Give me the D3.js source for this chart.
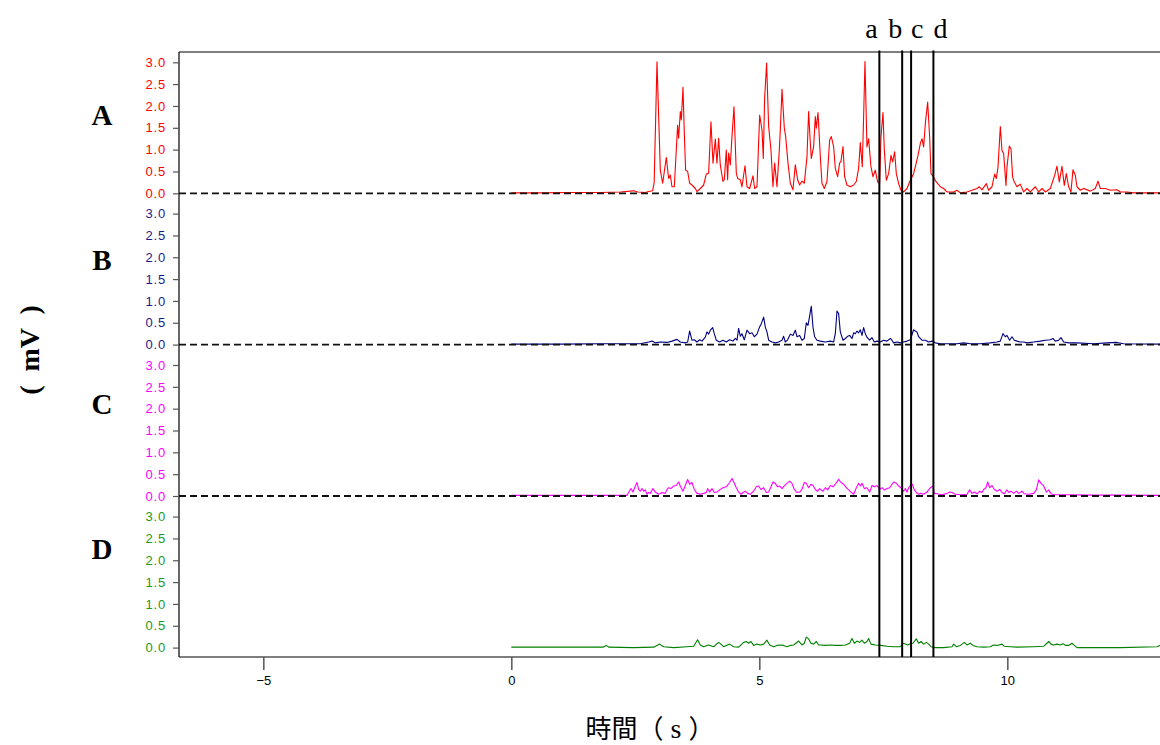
<!DOCTYPE html>
<html>
<head>
<meta charset="utf-8">
<script src="https://cdn.jsdelivr.net/npm/d3@7"></script>
<style>
  html, body { margin: 0; padding: 0; background: #fff; }
  svg { display: block; }
</style>
</head>
<body>
<svg id="chart" width="1160" height="745"></svg>
<script>
// ---- data: rectified EMG traces, time (s) vs amplitude (mV) ----
const channelNames = ["A", "B", "C", "D"];
const yTicks = [0, 0.5, 1.0, 1.5, 2.0, 2.5, 3.0];
const xTicks = [-5, 0, 5, 10];
const eventTimes = [7.42, 7.88, 8.06, 8.51];
const eventNames = ["a", "b", "c", "d"];

const seriesA = [[0,0.01],[0.6,0.01],[1.2,0.02],[1.8,0.02],[2.2,0.03],[2.4,0.05],[2.47,0.06],[2.55,0.03],[2.7,0.02],[2.77,0.04],[2.85,0.06],[2.88,0.25],[2.937,3.01],[3.004,0.53],[3.051,0.23],[3.125,0.82],[3.172,0.34],[3.205,0.42],[3.239,0.15],[3.286,0.15],[3.353,1.56],[3.373,1.26],[3.407,1.87],[3.427,1.68],[3.461,2.43],[3.488,1.37],[3.514,0.53],[3.555,0.5],[3.595,0.23],[3.642,0.19],[3.709,0.11],[3.743,0.04],[3.81,0.11],[3.877,0.19],[3.931,0.44],[3.978,0.46],[4.025,1.64],[4.066,0.69],[4.113,1.24],[4.146,0.69],[4.18,1.26],[4.213,0.65],[4.267,0.27],[4.294,0.31],[4.334,0.99],[4.361,0.31],[4.381,0.92],[4.415,0.65],[4.449,1.3],[4.489,1.98],[4.536,0.46],[4.563,0.34],[4.617,0.31],[4.65,0.15],[4.711,0.63],[4.751,0.15],[4.805,0.11],[4.872,0.4],[4.906,0.11],[4.953,0.15],[5.007,1.79],[5.054,1.45],[5.08,0.8],[5.107,2.18],[5.147,2.98],[5.188,1.53],[5.235,0.99],[5.275,0.15],[5.309,0.69],[5.356,0.15],[5.403,0.99],[5.423,1.45],[5.457,2.38],[5.504,1.49],[5.531,1.3],[5.578,0.69],[5.625,0.23],[5.678,0.08],[5.726,0.65],[5.773,0.31],[5.813,0.19],[5.86,0.28],[5.907,0.23],[5.961,0.84],[5.994,1.87],[6.028,1.15],[6.048,0.8],[6.095,1.07],[6.129,1.76],[6.149,1.49],[6.183,1.85],[6.23,0.84],[6.263,0.23],[6.31,0.11],[6.364,0.27],[6.418,1.22],[6.451,1.3],[6.498,1.07],[6.532,0.57],[6.579,0.38],[6.619,0.69],[6.646,0.73],[6.687,1.07],[6.72,0.38],[6.767,0.19],[6.834,0.15],[6.902,0.19],[6.955,0.27],[7.002,0.57],[7.036,1.16],[7.076,0.61],[7.103,1.76],[7.13,3.02],[7.17,1.06],[7.204,1.25],[7.251,0.61],[7.291,0.38],[7.338,0.53],[7.385,0.26],[7.426,0.23],[7.453,1.3],[7.493,1.85],[7.52,1.0],[7.56,0.3],[7.607,0.45],[7.654,0.87],[7.688,0.72],[7.728,0.95],[7.762,0.45],[7.809,0.22],[7.856,0.07],[7.91,0.03],[7.977,0.11],[8.044,0.3],[8.111,0.45],[8.192,0.83],[8.246,1.14],[8.28,1.25],[8.313,1.06],[8.347,1.6],[8.394,2.09],[8.434,1.29],[8.461,0.45],[8.515,0.37],[8.568,0.26],[8.649,0.15],[8.716,0.11],[8.783,0.03],[8.918,0.03],[8.985,0.07],[9.052,0.01],[9.187,0.03],[9.388,0.11],[9.435,0.15],[9.489,0.08],[9.577,0.22],[9.623,0.07],[9.691,0.15],[9.744,0.44],[9.778,0.34],[9.812,0.6],[9.859,1.53],[9.892,0.98],[9.926,0.91],[9.973,0.18],[9.993,0.6],[10.04,1.08],[10.074,1.02],[10.107,0.37],[10.141,0.26],[10.195,0.15],[10.262,0.21],[10.329,0.03],[10.396,0.11],[10.463,0.03],[10.564,0.15],[10.631,0.03],[10.699,0.11],[10.766,0.03],[10.867,0.11],[10.954,0.41],[11.001,0.62],[11.048,0.26],[11.102,0.62],[11.149,0.18],[11.189,0.45],[11.236,0.15],[11.283,0.03],[11.324,0.54],[11.371,0.41],[11.404,0.15],[11.472,0.07],[11.539,0.11],[11.673,0.05],[11.774,0.11],[11.828,0.28],[11.875,0.11],[11.976,0.11],[12.077,0.07],[12.211,0.08],[12.278,0.03],[12.413,0.03],[12.547,0.01],[13.1,0.01]];

const seriesB = [[0,0.01],[1.0,0.01],[1.8,0.02],[2.6,0.02],[2.769,0.06],[2.836,0.08],[2.903,0.04],[3.004,0.06],[3.138,0.05],[3.239,0.08],[3.34,0.12],[3.407,0.06],[3.508,0.04],[3.555,0.06],[3.595,0.31],[3.642,0.1],[3.689,0.11],[3.743,0.06],[3.797,0.11],[3.844,0.08],[3.911,0.17],[3.944,0.29],[3.978,0.24],[4.012,0.33],[4.059,0.39],[4.092,0.25],[4.133,0.1],[4.2,0.06],[4.267,0.1],[4.334,0.06],[4.402,0.11],[4.469,0.08],[4.516,0.14],[4.55,0.1],[4.583,0.37],[4.617,0.19],[4.65,0.25],[4.697,0.11],[4.751,0.33],[4.805,0.25],[4.852,0.27],[4.899,0.18],[4.953,0.24],[5.0,0.39],[5.04,0.48],[5.087,0.63],[5.121,0.4],[5.154,0.29],[5.188,0.1],[5.255,0.06],[5.322,0.04],[5.389,0.06],[5.457,0.1],[5.49,0.19],[5.524,0.06],[5.571,0.11],[5.625,0.24],[5.678,0.21],[5.726,0.33],[5.759,0.18],[5.813,0.21],[5.86,0.1],[5.907,0.14],[5.947,0.5],[5.981,0.44],[6.014,0.65],[6.048,0.88],[6.082,0.4],[6.115,0.18],[6.162,0.1],[6.23,0.08],[6.33,0.06],[6.431,0.08],[6.498,0.06],[6.532,0.25],[6.566,0.77],[6.599,0.71],[6.633,0.29],[6.687,0.1],[6.734,0.14],[6.781,0.19],[6.821,0.21],[6.868,0.14],[6.902,0.27],[6.935,0.25],[6.969,0.31],[7.002,0.27],[7.036,0.34],[7.07,0.21],[7.103,0.39],[7.137,0.25],[7.17,0.17],[7.224,0.1],[7.271,0.16],[7.318,0.06],[7.372,0.08],[7.439,0.06],[7.506,0.1],[7.573,0.08],[7.641,0.14],[7.674,0.1],[7.708,0.04],[7.775,0.06],[7.842,0.04],[7.91,0.06],[7.977,0.08],[8.044,0.11],[8.111,0.34],[8.145,0.31],[8.178,0.29],[8.212,0.18],[8.279,0.1],[8.347,0.1],[8.414,0.06],[8.481,0.08],[8.548,0.04],[8.649,0.02],[8.784,0.02],[8.985,0.02],[9.119,0.04],[9.254,0.02],[9.455,0.02],[9.657,0.04],[9.791,0.06],[9.858,0.08],[9.912,0.25],[9.959,0.18],[9.993,0.21],[10.047,0.1],[10.094,0.18],[10.141,0.1],[10.195,0.08],[10.262,0.06],[10.329,0.06],[10.396,0.04],[10.531,0.06],[10.665,0.08],[10.766,0.1],[10.867,0.11],[10.92,0.14],[10.967,0.08],[11.035,0.1],[11.082,0.16],[11.136,0.06],[11.236,0.04],[11.404,0.04],[11.74,0.02],[12.009,0.04],[12.211,0.05],[12.345,0.02],[13.1,0.01]];

const seriesC = [[0,0.015],[1.0,0.015],[2.0,0.015],[2.33,0.015],[2.365,0.08],[2.412,0.17],[2.453,0.09],[2.5,0.23],[2.533,0.31],[2.567,0.15],[2.6,0.11],[2.634,0.17],[2.668,0.11],[2.701,0.14],[2.735,0.04],[2.769,0.08],[2.802,0.06],[2.856,0.17],[2.903,0.09],[2.97,0.04],[3.037,0.08],[3.105,0.06],[3.138,0.15],[3.172,0.19],[3.219,0.17],[3.273,0.23],[3.326,0.24],[3.373,0.32],[3.407,0.23],[3.461,0.11],[3.508,0.24],[3.555,0.38],[3.595,0.27],[3.642,0.31],[3.689,0.15],[3.743,0.06],[3.81,0.04],[3.877,0.06],[3.931,0.08],[3.958,0.17],[3.998,0.09],[4.045,0.17],[4.092,0.08],[4.146,0.09],[4.2,0.14],[4.267,0.19],[4.334,0.21],[4.402,0.31],[4.449,0.4],[4.496,0.29],[4.536,0.19],[4.583,0.09],[4.63,0.04],[4.67,0.08],[4.717,0.11],[4.764,0.06],[4.818,0.04],[4.886,0.11],[4.939,0.21],[4.986,0.23],[5.033,0.15],[5.087,0.19],[5.141,0.08],[5.188,0.09],[5.235,0.21],[5.275,0.32],[5.322,0.29],[5.369,0.21],[5.41,0.23],[5.457,0.17],[5.504,0.23],[5.557,0.29],[5.611,0.34],[5.658,0.29],[5.705,0.15],[5.759,0.08],[5.813,0.09],[5.86,0.15],[5.907,0.31],[5.947,0.29],[5.994,0.19],[6.041,0.27],[6.082,0.24],[6.129,0.15],[6.176,0.11],[6.216,0.17],[6.284,0.11],[6.331,0.19],[6.378,0.14],[6.432,0.24],[6.485,0.21],[6.532,0.27],[6.6,0.38],[6.647,0.31],[6.7,0.27],[6.754,0.19],[6.801,0.14],[6.848,0.09],[6.902,0.04],[6.956,0.19],[7.003,0.29],[7.036,0.23],[7.07,0.29],[7.117,0.17],[7.171,0.19],[7.225,0.09],[7.272,0.24],[7.319,0.21],[7.372,0.24],[7.426,0.15],[7.473,0.19],[7.52,0.14],[7.574,0.17],[7.628,0.19],[7.675,0.27],[7.709,0.32],[7.762,0.29],[7.809,0.23],[7.856,0.19],[7.91,0.11],[7.944,0.17],[7.977,0.09],[8.011,0.19],[8.045,0.24],[8.085,0.27],[8.125,0.14],[8.165,0.08],[8.213,0.04],[8.246,0.06],[8.313,0.04],[8.381,0.09],[8.448,0.19],[8.502,0.23],[8.528,0.06],[8.582,0.05],[8.683,0.03],[8.784,0.06],[8.838,0.09],[8.885,0.08],[8.952,0.04],[9.053,0.03],[9.187,0.04],[9.241,0.14],[9.288,0.06],[9.335,0.09],[9.389,0.05],[9.442,0.11],[9.489,0.08],[9.523,0.15],[9.57,0.19],[9.604,0.32],[9.644,0.19],[9.691,0.24],[9.738,0.15],[9.792,0.11],[9.846,0.15],[9.893,0.08],[9.94,0.05],[9.993,0.14],[10.027,0.08],[10.074,0.11],[10.128,0.06],[10.182,0.11],[10.229,0.06],[10.296,0.11],[10.343,0.05],[10.43,0.04],[10.531,0.06],[10.585,0.14],[10.632,0.37],[10.679,0.29],[10.733,0.23],[10.787,0.09],[10.834,0.14],[10.881,0.05],[10.934,0.03],[11.27,0.03],[11.606,0.02],[12.278,0.02],[13.1,0.015]];

const seriesD = [[0,0.01],[1.0,0.01],[1.85,0.01],[1.915,0.05],[1.962,0.01],[2.466,0.0],[2.87,0.01],[2.99,0.08],[3.071,0.02],[3.273,0.0],[3.541,0.02],[3.676,0.03],[3.756,0.18],[3.81,0.06],[3.877,0.02],[3.978,0.06],[4.079,0.02],[4.18,0.12],[4.227,0.08],[4.281,0.02],[4.402,0.08],[4.482,0.02],[4.583,0.01],[4.684,0.12],[4.738,0.14],[4.785,0.1],[4.832,0.14],[4.886,0.05],[4.953,0.08],[5.02,0.06],[5.087,0.08],[5.154,0.17],[5.208,0.06],[5.289,0.02],[5.356,0.05],[5.423,0.06],[5.49,0.05],[5.557,0.02],[5.625,0.05],[5.692,0.06],[5.793,0.15],[5.86,0.06],[5.907,0.1],[5.947,0.24],[5.994,0.2],[6.041,0.1],[6.095,0.08],[6.149,0.14],[6.196,0.06],[6.23,0.06],[6.331,0.05],[6.432,0.06],[6.532,0.05],[6.633,0.05],[6.734,0.06],[6.821,0.1],[6.868,0.21],[6.916,0.1],[6.969,0.15],[7.023,0.12],[7.07,0.17],[7.117,0.1],[7.171,0.14],[7.204,0.21],[7.251,0.08],[7.339,0.06],[7.44,0.05],[7.574,0.03],[7.708,0.02],[7.843,0.02],[7.897,0.1],[7.944,0.08],[7.991,0.06],[8.045,0.09],[8.098,0.1],[8.165,0.2],[8.213,0.1],[8.26,0.14],[8.313,0.08],[8.367,0.12],[8.414,0.08],[8.461,0.02],[8.549,0.0],[8.717,0.0],[8.885,0.02],[8.918,0.08],[8.972,0.02],[9.053,0.05],[9.133,0.12],[9.187,0.06],[9.254,0.1],[9.308,0.05],[9.389,0.02],[9.523,0.01],[9.657,0.02],[9.724,0.06],[9.792,0.05],[9.893,0.08],[9.94,0.03],[10.061,0.02],[10.195,0.01],[10.531,0.02],[10.733,0.03],[10.834,0.14],[10.881,0.08],[10.934,0.06],[11.001,0.08],[11.068,0.06],[11.122,0.09],[11.169,0.05],[11.236,0.05],[11.304,0.1],[11.351,0.05],[11.404,0.0],[11.606,0.0],[12.278,0.0],[13.018,0.02],[13.1,0.06]];

// ---- layout ----
const svg = d3.select("#chart");
const plotLeft = 179, plotRight = 1161, plotTop = 52, plotBottom = 657;
const panelBase = [193.3, 344.6, 496.0, 647.6];
const panelSpan = 131;          // pixel height of 0..3 mV
const lineColors = ["#ff0000", "#000080", "#ff00ff", "#008000"];
const tickColors = ["#ff0000", "#1c1c8c", "#ff00ff", "#229922"];
const allSeries = [seriesA, seriesB, seriesC, seriesD];
const showBaseline = [true, true, true, false];

const x = d3.scaleLinear().domain([-6.7, 13.1]).range([plotLeft, plotLeft + 19.8 * 49.6]);
const yScales = panelBase.map(b => d3.scaleLinear().domain([0, 3]).range([b, b - panelSpan]));

svg.append("rect").attr("width", 1160).attr("height", 745).attr("fill", "#fff");

svg.append("defs").append("clipPath").attr("id", "plotClip")
  .append("rect").attr("x", plotLeft).attr("y", plotTop)
  .attr("width", plotRight - plotLeft).attr("height", plotBottom - plotTop);

// traces
const traces = svg.append("g").attr("clip-path", "url(#plotClip)");
allSeries.forEach((s, i) => {
  const line = d3.line().x(d => x(d[0])).y(d => yScales[i](d[1]));
  traces.append("path")
    .attr("d", line(s))
    .attr("fill", "none")
    .attr("stroke", lineColors[i])
    .attr("stroke-width", 1.1)
    .attr("stroke-linejoin", "round");
});

// dashed zero lines
allSeries.forEach((s, i) => {
  if (!showBaseline[i]) return;
  svg.append("line")
    .attr("x1", plotLeft).attr("x2", plotRight)
    .attr("y1", yScales[i](0)).attr("y2", yScales[i](0))
    .attr("stroke", "#111").attr("stroke-width", 1.8)
    .attr("stroke-dasharray", "7,4");
});

// event markers
eventTimes.forEach((t, i) => {
  svg.append("line")
    .attr("x1", x(t)).attr("x2", x(t))
    .attr("y1", plotTop - 1.5).attr("y2", plotBottom)
    .attr("stroke", "#000").attr("stroke-width", 2);
});
const labelShift = [-8, -7, 6, 7];
eventNames.forEach((n, i) => {
  svg.append("text")
    .attr("x", x(eventTimes[i]) + labelShift[i]).attr("y", 38)
    .attr("text-anchor", "middle")
    .attr("font-family", "'Liberation Serif', 'Times New Roman', serif")
    .attr("font-size", 28)
    .text(n);
});

// frame
const frame = svg.append("g").attr("stroke", "#000").attr("stroke-width", 1.2);
frame.append("line").attr("x1", plotLeft).attr("x2", plotRight).attr("y1", plotTop).attr("y2", plotTop);
frame.append("line").attr("x1", plotLeft).attr("x2", plotRight).attr("y1", plotBottom).attr("y2", plotBottom);
frame.append("line").attr("x1", plotLeft).attr("x2", plotLeft).attr("y1", plotTop).attr("y2", plotBottom);

// y axes
yScales.forEach((y, i) => {
  const g = svg.append("g").attr("transform", `translate(${plotLeft},0)`)
    .call(d3.axisLeft(y).tickValues(yTicks).tickFormat(d3.format(".1f")).tickSize(6).tickPadding(7));
  g.select(".domain").remove();
  g.selectAll(".tick line").attr("stroke", "#555").attr("stroke-width", 1.2);
  g.selectAll(".tick text")
    .attr("fill", tickColors[i])
    .attr("font-family", "'Liberation Sans', Arial, sans-serif")
    .attr("font-size", 13)
    .attr("letter-spacing", 0.8);
});

// x axis
const gx = svg.append("g").attr("transform", `translate(0,${plotBottom})`)
  .call(d3.axisBottom(x).tickValues(xTicks).tickFormat(d3.format("d")).tickSize(13).tickPadding(6));
gx.select(".domain").remove();
gx.selectAll(".tick line").attr("stroke", "#555").attr("stroke-width", 1.5);
gx.selectAll(".tick text")
  .attr("fill", "#000")
  .attr("font-family", "'Liberation Sans', Arial, sans-serif")
  .attr("font-size", 13);

// channel labels
const channelY = [125, 270, 414, 559];
channelNames.forEach((n, i) => {
  svg.append("text")
    .attr("x", 102).attr("y", channelY[i])
    .attr("text-anchor", "middle")
    .attr("font-family", "'Liberation Serif', 'Times New Roman', serif")
    .attr("font-weight", "bold")
    .attr("font-size", 29)
    .text(n);
});

// axis titles
svg.append("text")
  .attr("transform", "translate(39,350) rotate(-90)")
  .attr("text-anchor", "middle")
  .attr("font-family", "'Liberation Serif', 'Times New Roman', serif")
  .attr("font-weight", "bold")
  .attr("font-size", 28)
  .attr("xml:space", "preserve")
  .text("(  mV  )");

const xTitle = svg.append("text")
  .attr("x", 650).attr("y", 738)
  .attr("text-anchor", "middle")
  .attr("font-family", "'Noto Sans CJK TC', 'Noto Sans CJK SC', sans-serif")
  .attr("font-size", 26);
xTitle.append("tspan").text("時間（");
xTitle.append("tspan")
  .attr("font-family", "'Liberation Serif', 'Times New Roman', serif")
  .attr("font-size", 28)
  .attr("xml:space", "preserve")
  .text(" s ");
xTitle.append("tspan").text("）");
</script>
</body>
</html>
